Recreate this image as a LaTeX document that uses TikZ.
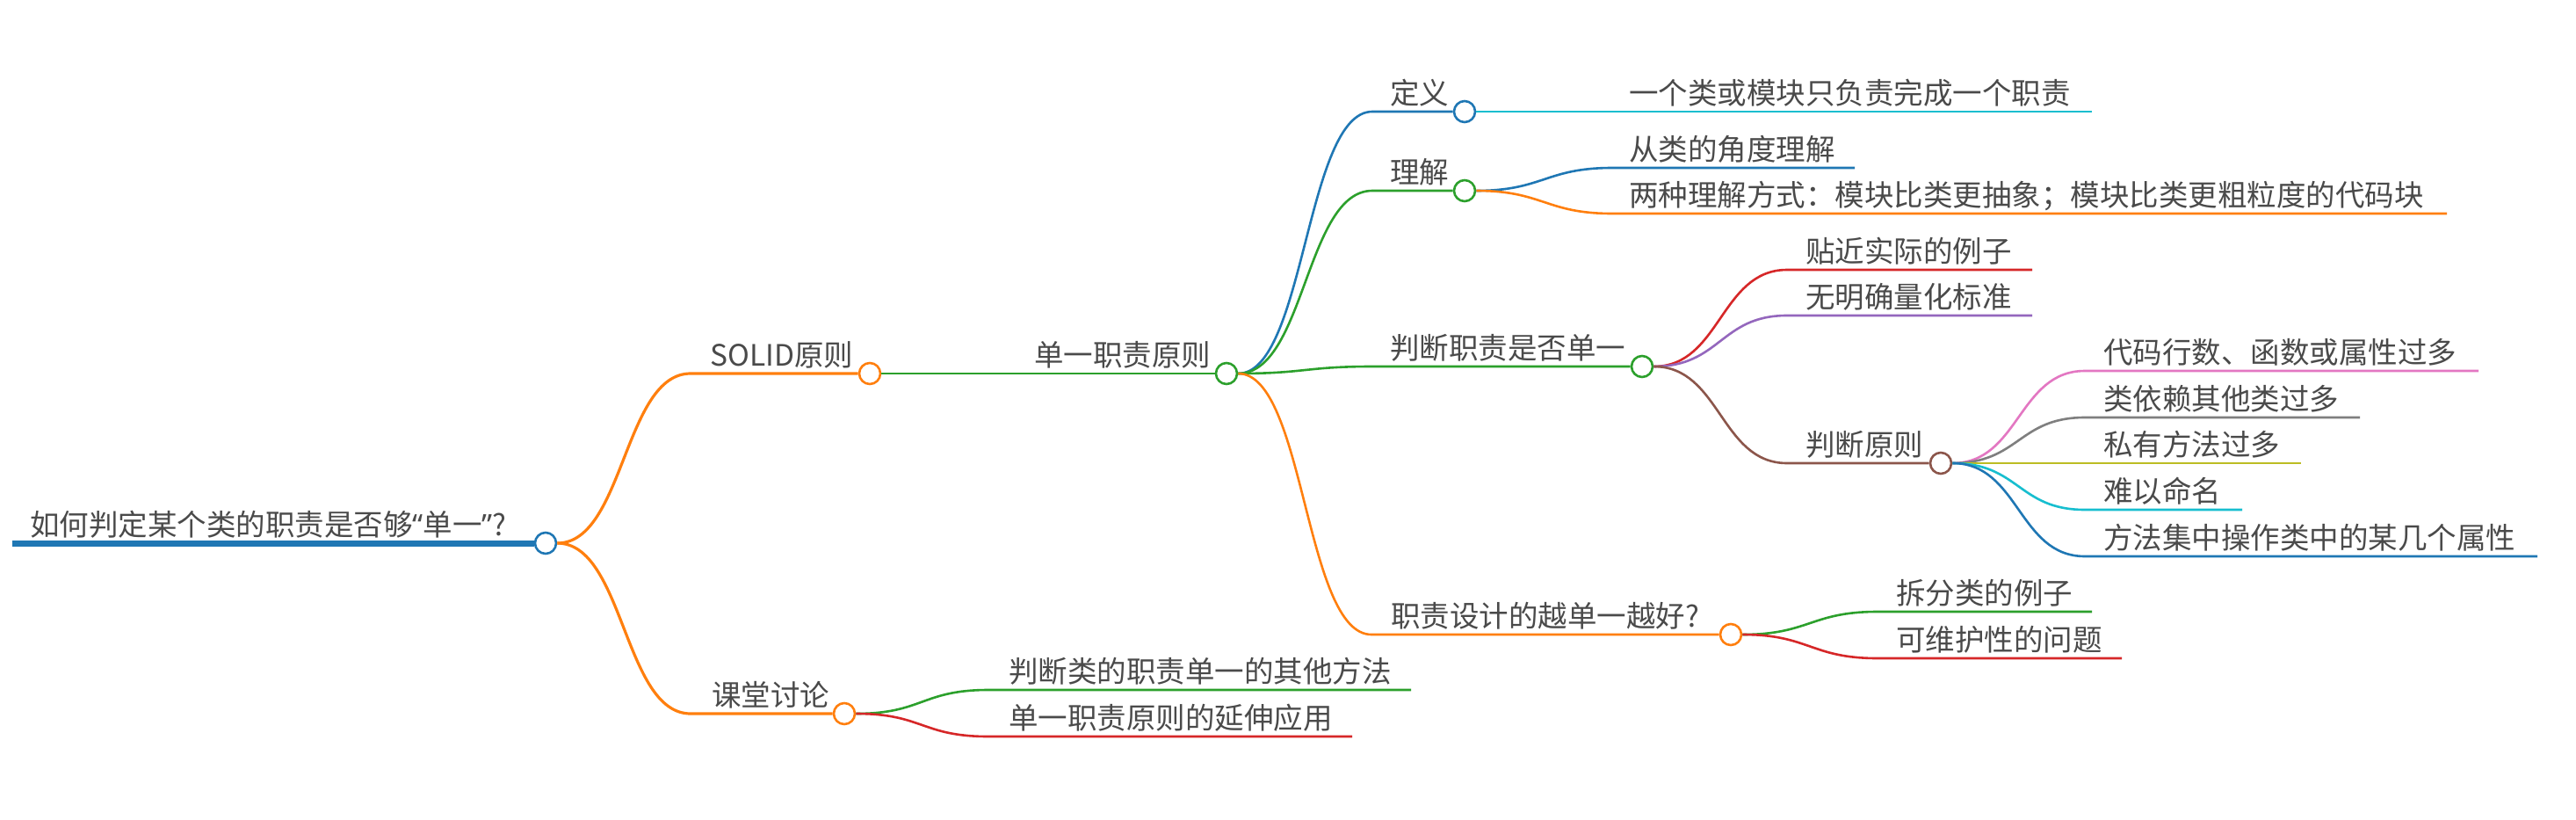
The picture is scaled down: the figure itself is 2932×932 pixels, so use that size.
\documentclass[tikz,border=0pt]{standalone}
\usepackage{fontspec}
\setmainfont{Noto Sans CJK SC}
\newfontfamily\latinq{Noto Sans}
\usepackage{tikz}
\usepackage{xcolor}
\definecolor{mblue}{HTML}{1F77B4}
\definecolor{morange}{HTML}{FF7F0E}
\definecolor{mgreen}{HTML}{2CA02C}
\definecolor{mred}{HTML}{D62728}
\definecolor{mpurple}{HTML}{9467BD}
\definecolor{mbrown}{HTML}{8C564B}
\definecolor{mpink}{HTML}{E377C2}
\definecolor{mgray}{HTML}{7F7F7F}
\definecolor{molive}{HTML}{BCBD22}
\definecolor{mcyan}{HTML}{17BECF}
\definecolor{ink}{HTML}{4A4A4A}

\begin{document}
\begin{tikzpicture}[x=1pt,y=-1pt,
  topic/.style={anchor=base west, inner sep=0, text=ink, font=\fontsize{33.5}{40}\selectfont},
  knob/.style={circle, fill=white, line width=2.6, minimum size=24, inner sep=0},
  link/.style={line width=2.6}]
\fill[white] (0,0) rectangle (2932,932);
\useasboundingbox (0,0) rectangle (2932,932);

% root
\coordinate (root-s) at (14,618);
\node[knob, draw=mblue] (root) at (621,618) {};
\node[topic] (root-t) at ([shift={(20,-9)}]root-s) {如何判定某个类的职责是否够{\latinq “}单一{\latinq ”}?};
\draw[mblue, line width=7] (root-s) -- (root.west);

% first level
\coordinate (solid-s) at (786,425);
\node[knob, draw=morange] (solid) at (990,425) {};
\node[topic] (solid-t) at ([shift={(22,-9)}]solid-s) {SOLID原则};
\draw[link, morange, line width=3.2] (root.east) .. controls +(76,0) and +(-76,0) .. (solid-s) -- (solid.west);

\coordinate (discuss-s) at (786,812);
\node[knob, draw=morange] (discuss) at (961,812) {};
\node[topic] (discuss-t) at ([shift={(24,-9)}]discuss-s) {课堂讨论};
\draw[link, morange, line width=3.2] (root.east) .. controls +(76,0) and +(-76,0) .. (discuss-s) -- (discuss.west);

% SOLID
\coordinate (srp-s) at (1156,425);
\node[knob, draw=mgreen] (srp) at (1396,425) {};
\node[topic] (srp-t) at ([shift={(21,-9)}]srp-s) {单一职责原则};
\draw[link, mgreen] (solid.east) -- (srp-s) -- (srp.west);

% discussion
\coordinate (other-s) at (1125,785);
\coordinate (other-e) at (1606,785);
\node[topic] (other-t) at ([shift={(23,-9)}]other-s) {判断类的职责单一的其他方法};
\draw[link, mgreen] (discuss.east) .. controls +(76,0) and +(-76,0) .. (other-s) -- (other-e);

\coordinate (extend-s) at (1125,838);
\coordinate (extend-e) at (1539,838);
\node[topic] (extend-t) at ([shift={(23,-9)}]extend-s) {单一职责原则的延伸应用};
\draw[link, mred] (discuss.east) .. controls +(76,0) and +(-76,0) .. (extend-s) -- (extend-e);

% single responsibility
\coordinate (define-s) at (1562,127);
\node[knob, draw=mblue] (define) at (1667,127) {};
\node[topic] (define-t) at ([shift={(20,-9)}]define-s) {定义};
\draw[link, mblue] (srp.east) .. controls +(76,0) and +(-76,0) .. (define-s) -- (define.west);

\coordinate (grasp-s) at (1562,217);
\node[knob, draw=mgreen] (grasp) at (1667,217) {};
\node[topic] (grasp-t) at ([shift={(20,-9)}]grasp-s) {理解};
\draw[link, mgreen] (srp.east) .. controls +(76,0) and +(-76,0) .. (grasp-s) -- (grasp.west);

\coordinate (judge-s) at (1562,417);
\node[knob, draw=mgreen] (judge) at (1869,417) {};
\node[topic] (judge-t) at ([shift={(20,-9)}]judge-s) {判断职责是否单一};
\draw[link, mgreen] (srp.east) .. controls +(76,0) and +(-76,0) .. (judge-s) -- (judge.west);

\coordinate (better-s) at (1561,722);
\node[knob, draw=morange] (better) at (1970,722) {};
\node[topic] (better-t) at ([shift={(22,-9)}]better-s) {职责设计的越单一越好?};
\draw[link, morange] (srp.east) .. controls +(76,0) and +(-76,0) .. (better-s) -- (better.west);

% definition and understanding
\coordinate (once-s) at (1835,127);
\coordinate (once-e) at (2381,127);
\node[topic] (once-t) at ([shift={(19,-9)}]once-s) {一个类或模块只负责完成一个职责};
\draw[link, mcyan] (define.east) -- (once-s) -- (once-e);

\coordinate (angle-s) at (1835,191);
\coordinate (angle-e) at (2111,191);
\node[topic] (angle-t) at ([shift={(19,-9)}]angle-s) {从类的角度理解};
\draw[link, mblue] (grasp.east) .. controls +(76,0) and +(-76,0) .. (angle-s) -- (angle-e);

\coordinate (twoway-s) at (1835,243);
\coordinate (twoway-e) at (2785,243);
\node[topic] (twoway-t) at ([shift={(19,-9)}]twoway-s) {两种理解方式：模块比类更抽象；模块比类更粗粒度的代码块};
\draw[link, morange] (grasp.east) .. controls +(76,0) and +(-76,0) .. (twoway-s) -- (twoway-e);

% judging
\coordinate (real-s) at (2034,307);
\coordinate (real-e) at (2313,307);
\node[topic] (real-t) at ([shift={(21,-9)}]real-s) {贴近实际的例子};
\draw[link, mred] (judge.east) .. controls +(76,0) and +(-76,0) .. (real-s) -- (real-e);

\coordinate (nostd-s) at (2034,359);
\coordinate (nostd-e) at (2313,359);
\node[topic] (nostd-t) at ([shift={(21,-9)}]nostd-s) {无明确量化标准};
\draw[link, mpurple] (judge.east) .. controls +(76,0) and +(-76,0) .. (nostd-s) -- (nostd-e);

\coordinate (rule-s) at (2034,527);
\node[knob, draw=mbrown] (rule) at (2209,527) {};
\node[topic] (rule-t) at ([shift={(21,-9)}]rule-s) {判断原则};
\draw[link, mbrown] (judge.east) .. controls +(76,0) and +(-76,0) .. (rule-s) -- (rule.west);

% rules
\coordinate (lines-s) at (2373,422);
\coordinate (lines-e) at (2821,422);
\node[topic] (lines-t) at ([shift={(21,-9)}]lines-s) {代码行数、函数或属性过多};
\draw[link, mpink] (rule.east) .. controls +(76,0) and +(-76,0) .. (lines-s) -- (lines-e);

\coordinate (depend-s) at (2373,475);
\coordinate (depend-e) at (2686,475);
\node[topic] (depend-t) at ([shift={(21,-9)}]depend-s) {类依赖其他类过多};
\draw[link, mgray] (rule.east) .. controls +(76,0) and +(-76,0) .. (depend-s) -- (depend-e);

\coordinate (private-s) at (2373,527);
\coordinate (private-e) at (2619,527);
\node[topic] (private-t) at ([shift={(21,-9)}]private-s) {私有方法过多};
\draw[link, molive] (rule.east) -- (private-s) -- (private-e);

\coordinate (naming-s) at (2373,580);
\coordinate (naming-e) at (2552,580);
\node[topic] (naming-t) at ([shift={(21,-9)}]naming-s) {难以命名};
\draw[link, mcyan] (rule.east) .. controls +(76,0) and +(-76,0) .. (naming-s) -- (naming-e);

\coordinate (focus-s) at (2373,633);
\coordinate (focus-e) at (2888,633);
\node[topic] (focus-t) at ([shift={(21,-9)}]focus-s) {方法集中操作类中的某几个属性};
\draw[link, mblue] (rule.east) .. controls +(76,0) and +(-76,0) .. (focus-s) -- (focus-e);

% better or not
\coordinate (split-s) at (2137,696);
\coordinate (split-e) at (2381,696);
\node[topic] (split-t) at ([shift={(21,-9)}]split-s) {拆分类的例子};
\draw[link, mgreen] (better.east) .. controls +(76,0) and +(-76,0) .. (split-s) -- (split-e);

\coordinate (keep-s) at (2137,749);
\coordinate (keep-e) at (2415,749);
\node[topic] (keep-t) at ([shift={(21,-9)}]keep-s) {可维护性的问题};
\draw[link, mred] (better.east) .. controls +(76,0) and +(-76,0) .. (keep-s) -- (keep-e);
\end{tikzpicture}
\end{document}
